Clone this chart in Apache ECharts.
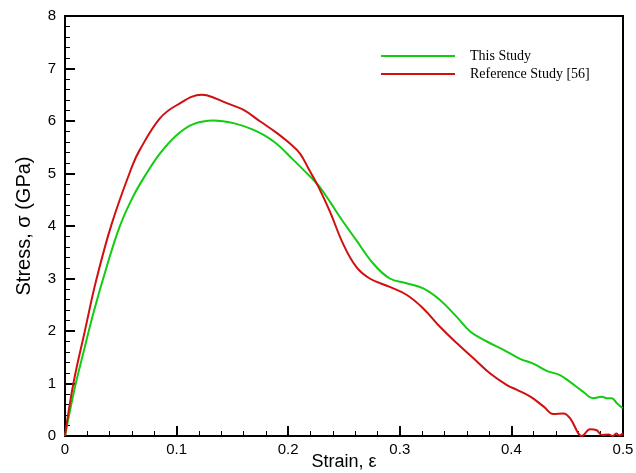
<!DOCTYPE html>
<html>
<head>
<meta charset="utf-8">
<script src="https://cdn.jsdelivr.net/npm/echarts@6/dist/echarts.min.js"></script>
<style>html,body{margin:0;padding:0;background:#fff}#c{width:636px;height:473px}</style>
</head>
<body>
<div id="c"></div>
<script>
var seriesNames = ['This Study', 'Reference Study [56]'];
var thisStudy = [
  [0,0],[0.009,0.94],[0.0164,1.58],[0.0254,2.34],[0.0373,3.22],[0.049,3.99],[0.061,4.56],
  [0.073,5.0],[0.085,5.38],[0.100,5.73],[0.115,5.94],[0.133,6.01],[0.151,5.96],[0.169,5.83],
  [0.187,5.61],[0.2046,5.26],[0.2225,4.88],[0.228,4.75],[0.2375,4.46],[0.246,4.18],[0.261,3.73],
  [0.276,3.29],[0.291,3.0],[0.306,2.91],[0.321,2.81],[0.336,2.59],[0.351,2.27],[0.363,1.99],
  [0.378,1.80],[0.393,1.64],[0.4077,1.47],[0.4196,1.38],[0.4316,1.24],[0.4435,1.16],[0.4525,1.03],
  [0.4644,0.84],[0.4734,0.72],[0.481,0.75],[0.4854,0.72],[0.4899,0.72],[0.4943,0.63],[0.4997,0.53]
];
var referenceStudy = [
  [0,0],[0.0075,1.0],[0.018,2.02],[0.028,2.97],[0.042,4.05],[0.060,5.13],[0.067,5.45],
  [0.085,6.05],[0.100,6.30],[0.1225,6.50],[0.127,6.49],[0.145,6.34],[0.160,6.21],[0.175,5.99],
  [0.190,5.77],[0.2016,5.57],[0.2106,5.38],[0.218,5.10],[0.227,4.75],[0.2375,4.27],[0.249,3.67],
  [0.261,3.22],[0.273,3.0],[0.291,2.84],[0.306,2.69],[0.321,2.43],[0.336,2.08],[0.351,1.77],
  [0.366,1.48],[0.381,1.19],[0.396,0.97],[0.405,0.88],[0.417,0.75],[0.429,0.56],[0.4375,0.42],
  [0.4465,0.43],[0.4525,0.34],[0.460,0.05],[0.463,0.0],[0.4704,0.13],[0.4764,0.11],[0.481,0.02],
  [0.487,0.03],[0.491,0.0],[0.494,0.05],[0.4965,0.01],[0.5,0.05]
];
var xTicks = [0, 0.1, 0.2, 0.3, 0.4, 0.5];
var yTicks = [0, 1, 2, 3, 4, 5, 6, 7, 8];
var xName = 'Strain, ε';
var yName = 'Stress, σ (GPa)';

var chart = echarts.init(document.getElementById('c'), null, {renderer: 'canvas'});
var axisFont = {color: '#000', fontFamily: 'Liberation Sans', fontSize: 15};
chart.setOption({
  animation: false,
  backgroundColor: '#fff',
  grid: {left: 65, right: 13, top: 16, bottom: 37, containLabel: false, outerBoundsMode: 'none',
         show: true, borderColor: '#000', borderWidth: 2, backgroundColor: 'transparent'},
  legend: {
    orient: 'vertical', left: 381, top: 49, padding: 0, itemWidth: 74, itemHeight: 2, itemGap: 4,
    icon: 'rect',
    data: seriesNames,
    textStyle: {fontFamily: 'Liberation Serif', fontSize: 14, color: '#000', padding: [0,0,0,10], lineHeight: 14}
  },
  xAxis: {
    type: 'value', min: xTicks[0], max: xTicks[xTicks.length-1], interval: 0.1,
    name: xName, nameLocation: 'middle', nameGap: 17, nameMoveOverlap: false,
    nameTextStyle: {color: '#000', fontFamily: 'Liberation Sans', fontSize: 18},
    axisLine: {show: true, lineStyle: {color: '#000', width: 2}},
    axisTick: {show: true, inside: true, length: 10, lineStyle: {color: '#000', width: 2}},
    minorTick: {show: true, splitNumber: 5, length: 5, lineStyle: {color: '#000', width: 1}},
    splitLine: {show: false},
    axisLabel: Object.assign({margin: 6, formatter: function(v){return String(v);}}, axisFont)
  },
  yAxis: {
    type: 'value', min: yTicks[0], max: yTicks[yTicks.length-1], interval: 1,
    name: yName, nameLocation: 'middle', nameGap: 31, nameRotate: 90, nameMoveOverlap: false,
    nameTextStyle: {color: '#000', fontFamily: 'Liberation Sans', fontSize: 20},
    axisLine: {show: true, lineStyle: {color: '#000', width: 2}},
    axisTick: {show: true, inside: true, length: 10, lineStyle: {color: '#000', width: 2}},
    minorTick: {show: true, splitNumber: 5, length: 5, lineStyle: {color: '#000', width: 1}},
    splitLine: {show: false},
    axisLabel: Object.assign({margin: 9}, axisFont)
  },
  series: [
    {name: seriesNames[0], type: 'line', data: thisStudy, showSymbol: false, symbol: 'none', smooth: 0.4,
     lineStyle: {color: '#11cc11', width: 2}, itemStyle: {color: '#11cc11'}},
    {name: seriesNames[1], type: 'line', data: referenceStudy, showSymbol: false, symbol: 'none', smooth: 0.4,
     lineStyle: {color: '#d01010', width: 2}, itemStyle: {color: '#d01010'}}
  ]
});
</script>
</body>
</html>
